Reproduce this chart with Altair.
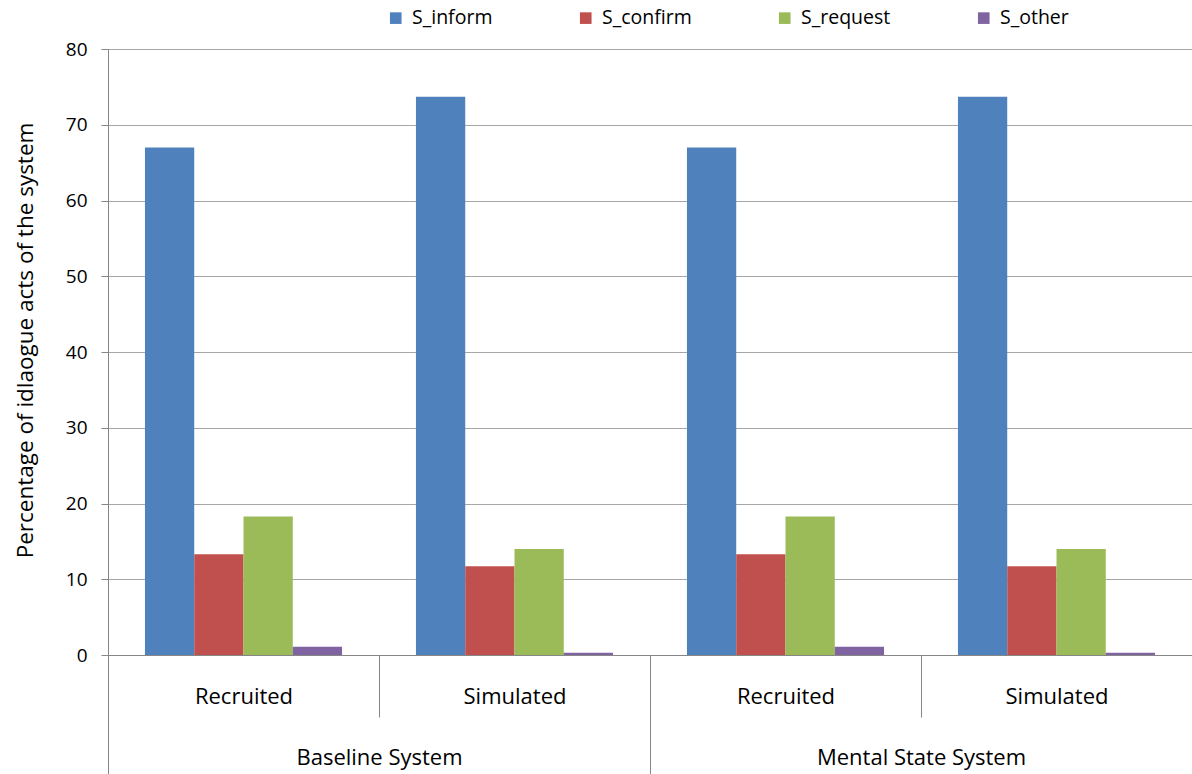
import altair as alt
import pandas as pd

# Categories
systems = ["Baseline System", "Mental State System"]
user_types = ["Recruited", "Simulated"]
acts = ["S_inform", "S_confirm", "S_request", "S_other"]
act_colors = ["#4F81BD", "#C0504D", "#9BBB59", "#8064A2"]

# Percentage of each system dialogue act, [Recruited, Simulated]
baseline_inform = [67.0, 73.7]
baseline_confirm = [13.3, 11.7]
baseline_request = [18.3, 14.0]
baseline_other = [1.1, 0.3]

mental_inform = [67.0, 73.7]
mental_confirm = [13.3, 11.7]
mental_request = [18.3, 14.0]
mental_other = [1.1, 0.3]

y_ticks = [0, 10, 20, 30, 40, 50, 60, 70, 80]

FONT = "Open Sans"
AXIS_GREY = "#868686"
GRID_GREY = "#a6a6a6"

per_system = {
    "Baseline System": [baseline_inform, baseline_confirm, baseline_request, baseline_other],
    "Mental State System": [mental_inform, mental_confirm, mental_request, mental_other],
}

rows = []
cells = []
for system in systems:
    for j, user in enumerate(user_types):
        cell = f"{system}|{user}"
        cells.append(cell)
        for act, values in zip(acts, per_system[system]):
            rows.append({"cell": cell, "system": system, "user": user,
                         "act": act, "value": values[j]})
df = pd.DataFrame(rows)
sys_df = pd.DataFrame({"system": systems})

bars = alt.Chart(df).mark_bar().encode(
    x=alt.X(
        "cell:N",
        sort=cells,
        scale=alt.Scale(paddingInner=0, paddingOuter=0),
        axis=alt.Axis(
            title=None,
            orient="bottom",
            labelExpr="split(datum.label, '|')[1]",
            labelAngle=0,
            labelFont=FONT,
            labelFontSize=22,
            labelColor="black",
            labelBaseline="middle",
            labelPadding=-21,
            labelLimit=0,
            tickBand="extent",
            tickSize=62,
            tickColor=AXIS_GREY,
            domainColor=AXIS_GREY,
            grid=False,
        ),
    ),
    xOffset=alt.XOffset(
        "act:N", sort=acts,
        scale=alt.Scale(paddingInner=0, paddingOuter=0.75),
    ),
    y=alt.Y(
        "value:Q",
        scale=alt.Scale(domain=[0, 80], nice=False),
        axis=alt.Axis(
            values=y_ticks,
            title="Percentage of idlaogue acts of the system",
            titleFont=FONT,
            titleFontSize=22.5,
            titleFontWeight="normal",
            titleColor="black",
            titleX=-83,
            titleY=291,
            titleAlign="center",
            titleBaseline="middle",
            labelFont=FONT,
            labelFontSize=19,
            labelColor="black",
            labelPadding=14,
            tickSize=7,
            tickColor=AXIS_GREY,
            domainColor=AXIS_GREY,
            gridColor=GRID_GREY,
            grid=True,
        ),
    ),
    color=alt.Color(
        "act:N",
        sort=acts,
        scale=alt.Scale(domain=acts, range=act_colors),
        legend=alt.Legend(
            title=None,
            orient="none",
            legendX=278,
            legendY=-41,
            direction="horizontal",
            symbolType="square",
            symbolSize=135,
            symbolStrokeWidth=0,
            symbolOffset=0,
            labelFont=FONT,
            labelFontSize=19.5,
            labelColor="black",
            labelOffset=6.5,
            labelLimit=0,
            columnPadding=83,
            padding=0,
        ),
    ),
)

# Outer category level: one band per system
system_axis = alt.Chart(sys_df).mark_point(opacity=0).encode(
    x=alt.X(
        "system:N",
        sort=systems,
        scale=alt.Scale(paddingInner=0, paddingOuter=0),
        axis=alt.Axis(
            title=None,
            orient="bottom",
            labelAngle=0,
            labelFont=FONT,
            labelFontSize=22,
            labelColor="black",
            labelBaseline="middle",
            labelPadding=-17,
            labelLimit=0,
            tickBand="extent",
            tickSize=119,
            tickColor=AXIS_GREY,
            domain=False,
            grid=False,
        ),
    ),
)

chart = alt.layer(bars, system_axis).resolve_scale(x="independent").properties(
    width=1084,
    height=606,
    autosize=alt.AutoSizeParams(type="none"),
    padding={"left": 108, "top": 49, "right": 0, "bottom": 119},
    background="white",
).configure_view(stroke=None)

chart.save("out.html", embed_options={"renderer": "svg", "actions": False})
